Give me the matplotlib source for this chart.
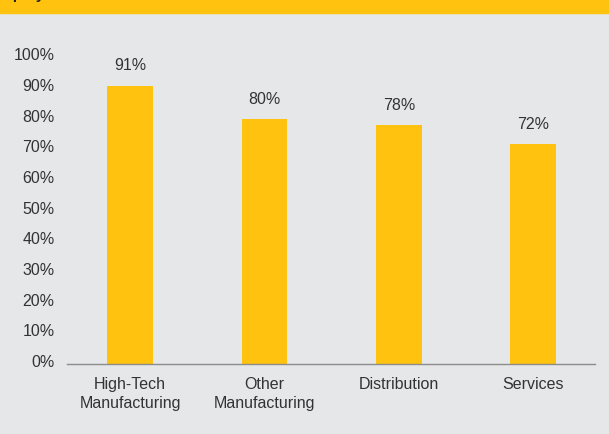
import numpy as np
import matplotlib.pyplot as plt
import matplotlib.transforms as mtransforms

categories = ["High-Tech\nManufacturing", "Other\nManufacturing", "Distribution", "Services"]
values = [91, 80, 78, 72]
yticks = [0, 10, 20, 30, 40, 50, 60, 70, 80, 90, 100]

bg = "#E6E7E8"
gold = "#FFC20E"
txt = "#333333"

plt.rcParams["font.family"] = ["Liberation Sans", "DejaVu Sans"]

fig = plt.figure(figsize=(6.09, 4.35), dpi=100, facecolor=bg)

# yellow header band (title cut off at the top)
fig.patches.append(plt.Rectangle((0, 1 - 13.5 / 435), 1, 13.5 / 435,
                                 transform=fig.transFigure, color=gold, zorder=0))
fig.text(-11 / 609, 1 + 1.5 / 435, "Employers", fontsize=11, fontweight="bold",
         color="#222222", va="baseline", ha="left")

ax = fig.add_axes([67 / 609, 69.7 / 435, (595 - 67) / 609, (365.3 - 59) / 435])
ax.set_facecolor(bg)

x = np.arange(len(categories))
ax.bar(x, values, width=0.34, color=gold, zorder=2)
for xi, v in zip(x, values):
    ax.annotate(f"{v}%", (xi, v), xytext=(0, 9.5), textcoords="offset points",
                ha="center", va="bottom", fontsize=11.5, color=txt)

ax.set_xlim(-0.47, len(categories) - 1 + 0.46)
ax.set_ylim(0, 100)
ax.set_xticks(x)
ax.set_xticklabels(categories, fontsize=11.5, color=txt, linespacing=1.35)
ax.set_yticks(yticks)
ax.set_yticklabels([f"{t}%" for t in yticks], fontsize=11.5, color=txt)
ax.tick_params(axis="both", length=0)
ax.tick_params(axis="x", pad=8.5)
ax.tick_params(axis="y", pad=9)

shift = mtransforms.ScaledTranslation(0, 4.5 / 100, fig.dpi_scale_trans)
for lab in ax.get_yticklabels():
    lab.set_transform(lab.get_transform() + shift)

for s in ["top", "right", "left"]:
    ax.spines[s].set_visible(False)
ax.spines["bottom"].set_color("#8C8C8C")
ax.spines["bottom"].set_linewidth(1.0)

fig.savefig("out.png", dpi=100, facecolor=bg)
